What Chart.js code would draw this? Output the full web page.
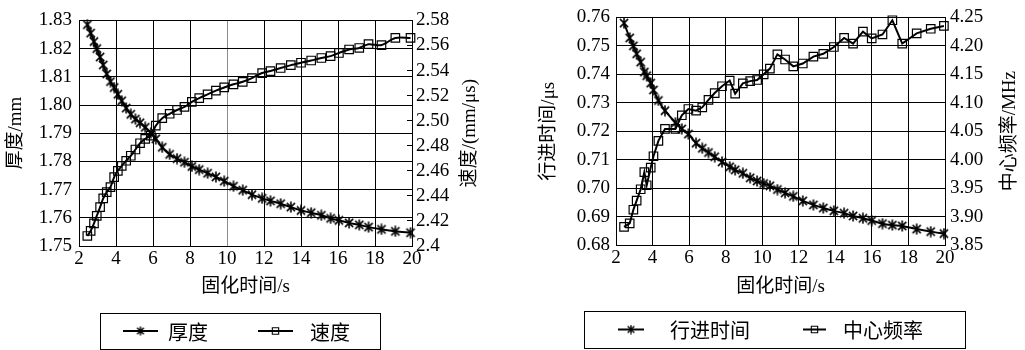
<!DOCTYPE html>
<html>
<head>
<meta charset="utf-8">
<script src="https://cdn.jsdelivr.net/npm/chart.js@4.4.1/dist/chart.umd.min.js"></script>
<style>
  html, body { margin: 0; padding: 0; background: #fff; }
  #wrap { position: relative; width: 1025px; height: 350px; }
  #wrap canvas { position: absolute; top: 0; }
</style>
</head>
<body>
<div id="wrap">
  <canvas id="graph_thick" width="512" height="350" style="left:0"></canvas>
  <canvas id="graph_freq" width="513" height="350" style="left:512px"></canvas>
</div>
<script>
// 左图: 固化时间 - 厚度 / 速度
var time_a = [2.45, 2.63, 2.81, 2.96, 3.14, 3.31, 3.50, 3.70, 3.90, 4.10,
  4.31, 4.55, 4.80, 5.05, 5.30, 5.58, 5.88, 6.15, 6.50, 6.90,
  7.30, 7.70, 8.10, 8.50, 8.95, 9.40, 9.85, 10.35, 10.85, 11.35,
  11.90, 12.35, 12.90, 13.45, 14.00, 14.55, 15.10, 15.60, 16.05, 16.60,
  17.15, 17.65, 18.35, 19.10, 19.92];
var thickness = [1.8285, 1.8255, 1.8225, 1.8200, 1.8170, 1.8142, 1.8110, 1.8083, 1.8062, 1.8038,
  1.8015, 1.7989, 1.7967, 1.7950, 1.7937, 1.7921, 1.7901, 1.7880, 1.7850, 1.7825,
  1.7810, 1.7797, 1.7782, 1.7771, 1.7758, 1.7745, 1.7730, 1.7712, 1.7698, 1.7682,
  1.7669, 1.7660, 1.7650, 1.7638, 1.7626, 1.7618, 1.7609, 1.7598, 1.7591, 1.7582,
  1.7575, 1.7567, 1.7559, 1.7552, 1.7547];
var speed = [2.4080, 2.4120, 2.4180, 2.4240, 2.4310, 2.4380, 2.4430, 2.4470, 2.4550, 2.4600,
  2.4640, 2.4680, 2.4720, 2.4770, 2.4820, 2.4855, 2.4880, 2.4960, 2.5020, 2.5055,
  2.5085, 2.5110, 2.5150, 2.5180, 2.5210, 2.5240, 2.5265, 2.5290, 2.5310, 2.5340,
  2.5380, 2.5396, 2.5420, 2.5443, 2.5462, 2.5480, 2.5500, 2.5515, 2.5540, 2.5568,
  2.5580, 2.5610, 2.5603, 2.5660, 2.5660];

// 右图: 固化时间 - 行进时间 / 中心频率
var time_b = [2.44, 2.75, 2.95, 3.13, 3.35, 3.55, 3.68, 3.90, 4.05, 4.32,
  4.68, 5.25, 5.60, 5.96, 6.38, 6.72, 7.06, 7.40, 7.80, 8.22,
  8.52, 8.94, 9.34, 9.72, 10.08, 10.42, 10.83, 11.25, 11.70, 12.22,
  12.80, 13.34, 13.92, 14.48, 14.97, 15.51, 15.99, 16.58, 17.12, 17.66,
  18.45, 19.22, 19.94];
var travel = [0.7580, 0.7528, 0.7500, 0.7472, 0.7443, 0.7408, 0.7395, 0.7369, 0.7345, 0.7308,
  0.7272, 0.7230, 0.7208, 0.7190, 0.7158, 0.7140, 0.7125, 0.7110, 0.7092, 0.7075,
  0.7064, 0.7052, 0.7036, 0.7025, 0.7016, 0.7008, 0.6995, 0.6983, 0.6971, 0.6955,
  0.6941, 0.6930, 0.6920, 0.6912, 0.6902, 0.6894, 0.6886, 0.6875, 0.6870, 0.6867,
  0.6856, 0.6847, 0.6840];
var freq = [3.882, 3.888, 3.912, 3.928, 3.948, 3.978, 3.955, 3.986, 4.006, 4.033,
  4.054, 4.054, 4.078, 4.089, 4.086, 4.092, 4.105, 4.117, 4.129, 4.139,
  4.116, 4.134, 4.138, 4.140, 4.150, 4.160, 4.185, 4.176, 4.164, 4.169,
  4.181, 4.186, 4.198, 4.214, 4.204, 4.225, 4.213, 4.220, 4.245, 4.204,
  4.222, 4.230, 4.235];

// 刻度标签
var time_ticks = ['2', '4', '6', '8', '10', '12', '14', '16', '18', '20'];
var thick_ticks = ['1.75', '1.76', '1.77', '1.78', '1.79', '1.80', '1.81', '1.82', '1.83'];
var speed_ticks = ['2.4', '2.42', '2.44', '2.46', '2.48', '2.50', '2.52', '2.54', '2.56', '2.58'];
var travel_ticks = ['0.68', '0.69', '0.70', '0.71', '0.72', '0.73', '0.74', '0.75', '0.76'];
var freq_ticks = ['3.85', '3.90', '3.95', '4.00', '4.05', '4.10', '4.15', '4.20', '4.25'];

var serif = "'Liberation Serif', 'Times New Roman', 'DejaVu Serif', serif";
Chart.defaults.color = '#000';
Chart.defaults.font.family = serif;

var numFont = { family: serif, size: 19 };
var titleFont = { family: "'Liberation Serif', 'Times New Roman', 'Noto Sans CJK SC', serif", size: 19 };

// 星形标记 (竖线 + 叉)
function makeStar(size, lw) {
  var c = document.createElement('canvas');
  c.width = size; c.height = size;
  var g = c.getContext('2d');
  var m = size / 2, r = size / 2 - 0.5, d = r * 0.74;
  g.strokeStyle = '#000';
  g.lineWidth = lw;
  g.beginPath();
  g.moveTo(m, m - r); g.lineTo(m, m + r);
  g.moveTo(m - d, m - d); g.lineTo(m + d, m + d);
  g.moveTo(m - d, m + d); g.lineTo(m + d, m - d);
  g.stroke();
  return c;
}
var starBig = makeStar(12, 1.6);
var starSmall = makeStar(10, 1.4);

function pairs(xs, ys) {
  return xs.map(function (x, i) { return { x: x, y: ys[i] }; });
}

// 带边框的图例
var boxLegend = {
  id: 'boxLegend',
  afterDraw: function (chart, args, opts) {
    var ctx = chart.ctx;
    var cy = opts.y + opts.h / 2;
    ctx.save();
    ctx.strokeStyle = '#000';
    ctx.lineWidth = 1;
    ctx.strokeRect(opts.x + 0.5, opts.y + 0.5, opts.w, opts.h);
    chart.data.datasets.forEach(function (ds, i) {
      var it = opts.items[i];
      ctx.lineWidth = 2;
      ctx.strokeStyle = '#000';
      ctx.beginPath();
      ctx.moveTo(it.x0, cy);
      ctx.lineTo(it.x1, cy);
      ctx.stroke();
      ctx.fillStyle = 'rgba(0,0,0,0)';
      ctx.lineWidth = 1.1;
      Chart.helpers.drawPoint(ctx, {
        pointStyle: ds.pointStyle === 'rect' ? 'rect' : starSmall,
        radius: 4.5, borderWidth: 1.1, rotation: 0
      }, (it.x0 + it.x1) / 2, cy);
      ctx.fillStyle = '#000';
      ctx.font = opts.font;
      ctx.textBaseline = 'middle';
      ctx.textAlign = 'left';
      ctx.fillText(ds.label, it.tx, cy + 1);
    });
    ctx.restore();
  }
};

// 右侧坐标轴标题, 与左侧一样自下而上书写
var rightTitle = {
  id: 'rightTitle',
  afterDraw: function (chart) {
    var scale = chart.scales.y1;
    var t = scale.options.title;
    var font = Chart.helpers.toFont(t.font);
    var x = scale.right - font.lineHeight / 2 - t.padding.top;
    var y = (scale.top + scale.bottom) / 2;
    var ctx = chart.ctx;
    ctx.save();
    ctx.translate(x, y);
    ctx.rotate(-Math.PI / 2);
    ctx.font = font.string;
    ctx.fillStyle = '#000';
    ctx.textAlign = 'center';
    ctx.textBaseline = 'middle';
    ctx.fillText(t.text, 0, 0);
    ctx.restore();
  }
};

function fixWidth(w) { return function (scale) { scale.width = w; }; }
function fixHeight(h) { return function (scale) { scale.height = h; }; }

var ctx_a = document.getElementById('graph_thick');
var chart_thick = new Chart(ctx_a, {
  type: 'line',
  data: {
    datasets: [{
      label: '厚度',
      data: pairs(time_a, thickness),
      yAxisID: 'y',
      borderColor: '#000',
      borderWidth: 2,
      pointStyle: starBig,
      pointRadius: 5,
      tension: 0.3,
      clip: 8
    }, {
      label: '速度',
      data: pairs(time_a, speed),
      yAxisID: 'y1',
      borderColor: '#000',
      borderWidth: 2,
      pointStyle: 'rect',
      pointRadius: 6,
      pointBorderWidth: 1.2,
      pointBorderColor: '#000',
      pointBackgroundColor: 'rgba(0,0,0,0)',
      tension: 0.3,
      clip: 8
    }]
  },
  options: {
    responsive: false,
    animation: false,
    layout: { padding: { left: 0, right: 30, top: 19, bottom: 52 } },
    plugins: {
      legend: { display: false },
      tooltip: { enabled: false },
      boxLegend: {
        x: 100, y: 313, w: 280, h: 36,
        font: "20px 'Noto Sans CJK SC', sans-serif",
        items: [{ x0: 123, x1: 158, tx: 168 }, { x0: 258, x1: 293, tx: 310 }]
      }
    },
    scales: {
      x: {
        type: 'linear', min: 2, max: 20,
        afterFit: fixHeight(52),
        ticks: { stepSize: 2, padding: 2, font: numFont, maxRotation: 0, autoSkip: false,
          callback: function (v, i) { return time_ticks[i]; } },
        grid: { color: function (c) { return c.tick && c.tick.value === 10 ? '#8c8c8c' : '#000'; },
          lineWidth: 1, drawTicks: false },
        border: { color: '#000', width: 1 },
        title: { display: true, text: '固化时间/s', font: titleFont, padding: { top: 0, bottom: 0 } }
      },
      y: {
        position: 'left', min: 1.75, max: 1.83,
        afterFit: fixWidth(79),
        ticks: { stepSize: 0.01, padding: 7, font: numFont, autoSkip: false,
          callback: function (v, i) { return thick_ticks[i]; } },
        grid: { color: '#000', lineWidth: 1, drawTicks: false },
        border: { color: '#000', width: 1 },
        title: { display: true, text: '厚度/mm', font: titleFont, padding: { top: 5, bottom: 0 } }
      },
      y1: {
        position: 'right', min: 2.4, max: 2.58,
        afterFit: fixWidth(70),
        ticks: { stepSize: 0.02, padding: 9, font: numFont, autoSkip: false,
          callback: function (v, i) { return speed_ticks[i]; } },
        grid: { drawOnChartArea: false, color: '#000', tickLength: -5, lineWidth: 1 },
        border: { color: '#000', width: 1 },
        title: { display: false, text: '速度/(mm/μs)', font: titleFont, padding: { top: 1, bottom: 0 } }
      }
    }
  },
  plugins: [boxLegend, rightTitle]
});

var ctx_b = document.getElementById('graph_freq');
var chart_freq = new Chart(ctx_b, {
  type: 'line',
  data: {
    datasets: [{
      label: '行进时间',
      data: pairs(time_b, travel),
      yAxisID: 'y',
      borderColor: '#000',
      borderWidth: 2,
      pointStyle: starBig,
      pointRadius: 5,
      tension: 0.3,
      clip: 8
    }, {
      label: '中心频率',
      data: pairs(time_b, freq),
      yAxisID: 'y1',
      borderColor: '#000',
      borderWidth: 2,
      pointStyle: 'rect',
      pointRadius: 6,
      pointBorderWidth: 1.2,
      pointBorderColor: '#000',
      pointBackgroundColor: 'rgba(0,0,0,0)',
      tension: 0,
      clip: 8
    }]
  },
  options: {
    responsive: false,
    animation: false,
    layout: { padding: { left: 26, right: 0, top: 17, bottom: 52 } },
    plugins: {
      legend: { display: false },
      tooltip: { enabled: false },
      boxLegend: {
        x: 72, y: 311, w: 381, h: 37,
        font: "20px 'Noto Sans CJK SC', sans-serif",
        items: [{ x0: 106, x1: 132, tx: 158 }, { x0: 291, x1: 314, tx: 331 }]
      }
    },
    scales: {
      x: {
        type: 'linear', min: 2, max: 20,
        afterFit: fixHeight(53),
        ticks: { stepSize: 2, padding: 2, font: numFont, maxRotation: 0, autoSkip: false,
          callback: function (v, i) { return time_ticks[i]; } },
        grid: { color: '#000', lineWidth: 1, drawTicks: false },
        border: { color: '#000', width: 1 },
        title: { display: true, text: '固化时间/s', font: titleFont, padding: { top: 0, bottom: 0 } }
      },
      y: {
        position: 'left', min: 0.68, max: 0.76,
        afterFit: fixWidth(78),
        ticks: { stepSize: 0.01, padding: 6, font: numFont, autoSkip: false,
          callback: function (v, i) { return travel_ticks[i]; } },
        grid: { color: '#000', lineWidth: 1, drawTicks: false },
        border: { color: '#000', width: 1 },
        title: { display: true, text: '行进时间/μs', font: titleFont, padding: { top: 0, bottom: 0 } }
      },
      y1: {
        position: 'right', min: 3.85, max: 4.25,
        afterFit: fixWidth(80),
        ticks: { stepSize: 0.05, padding: 5, font: numFont, autoSkip: false,
          callback: function (v, i) { return freq_ticks[i]; } },
        grid: { drawOnChartArea: false, drawTicks: false },
        border: { color: '#000', width: 1 },
        title: { display: false, text: '中心频率/MHz', font: titleFont, padding: { top: 4, bottom: 0 } }
      }
    }
  },
  plugins: [boxLegend, rightTitle]
});
</script>
</body>
</html>
